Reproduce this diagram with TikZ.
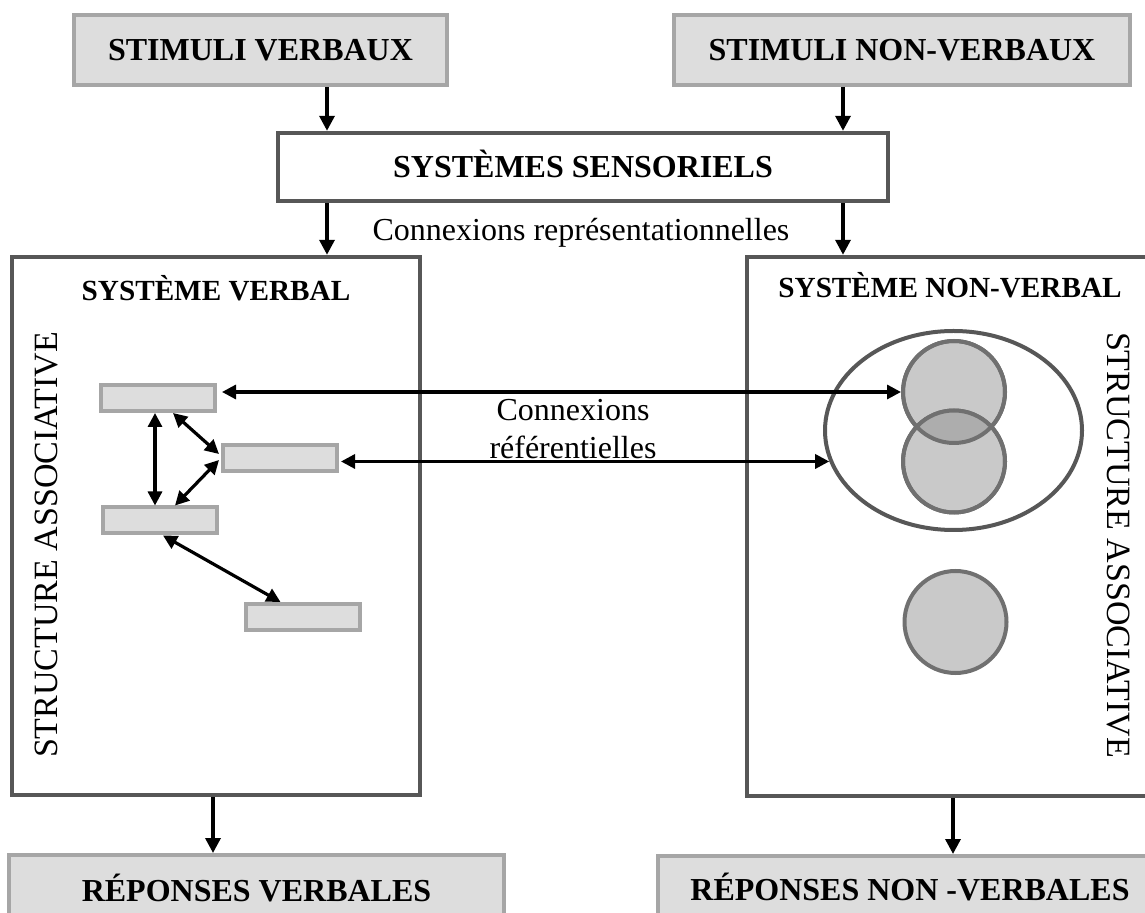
\documentclass[tikz,border=0pt]{standalone}
\usepackage{fontspec}
\setmainfont{Liberation Serif}
\usetikzlibrary{arrows.meta,shapes.geometric}
\definecolor{boxgray}{HTML}{A6A6A6}
\definecolor{boxfill}{HTML}{DDDDDD}
\definecolor{darkline}{HTML}{575757}
\definecolor{circline}{HTML}{707070}
\definecolor{circfill}{HTML}{C9C9C9}
\definecolor{overlapfill}{HTML}{ADADAD}
\begin{document}
\begin{tikzpicture}[x=0.5pt,y=-0.5pt,
  lbl/.style={font=\fontsize{16}{19}\selectfont\bfseries, text height=10.6pt, text depth=0pt},
  ttl/.style={font=\fontsize{14.6}{17}\selectfont\bfseries, text height=9.7pt, text depth=0pt, inner sep=0pt},
  txt/.style={font=\fontsize{16}{19}\selectfont, inner sep=0pt},
  vtxt/.style={font=\fontsize{17}{20}\selectfont, inner sep=0pt, text height=11.3pt, text depth=0pt},
  graybox/.style={draw=boxgray, fill=boxfill, line width=2pt, inner sep=0pt, lbl},
  darkbox/.style={draw=darkline, line width=2.2pt, inner sep=0pt},
  smallbox/.style={draw=boxgray, fill=boxfill, line width=2pt, minimum width=57pt, minimum height=13pt, inner sep=0pt},
  ball/.style={circle, draw=circline, fill=circfill, line width=2pt, minimum size=51pt, inner sep=0pt},
  arr/.style={-{Triangle[length=7.5pt,width=7.5pt]}, line width=1.7pt},
  darr/.style={{Triangle[length=7pt,width=7pt]}-{Triangle[length=7pt,width=7pt]}, line width=1.6pt}]
\useasboundingbox (0,0) rectangle (1145,913);
\clip (0,0) rectangle (1145,913);

% top boxes
\node[graybox, minimum width=186.5pt, minimum height=35pt] (sv) at (260.5,50) {STIMULI VERBAUX};
\node[graybox, minimum width=228pt, minimum height=35pt] (snv) at (902,50) {STIMULI NON-VERBAUX};
\node[darkbox, lbl, minimum width=305pt, minimum height=34pt] (ss) at (583,167) {SYSTÈMES SENSORIELS};
\node[txt] (rep) at (581,233) {Connexions représentationnelles};

% big systems
\node[darkbox, minimum width=204pt, minimum height=269pt] (vs) at (216,526) {};
\node[darkbox, minimum width=211.5pt, minimum height=269.5pt] (nvs) at (958.5,526.5) {};
\node[ttl] (vst) at (216,291) {SYSTÈME VERBAL};
\node[ttl] (nvst) at (950,288) {SYSTÈME NON-VERBAL};
\node[vtxt, rotate=90] (sal) at (46,545) {STRUCTURE ASSOCIATIVE};
\node[vtxt, rotate=-90] (sar) at (1119,545) {STRUCTURE ASSOCIATIVE};

% verbal units
\node[smallbox] (r1) at (158,398) {};
\node[smallbox] (r2) at (280,458) {};
\node[smallbox] (r3) at (160,520.5) {};
\node[smallbox] (r4) at (302.5,617) {};

% non-verbal units
\node[ellipse, draw=darkline, line width=2pt, minimum width=128.5pt, minimum height=99.5pt, inner sep=0pt] (ell) at (953.5,430.5) {};
\node[ball] (c1) at (954,392) {};
\node[ball] (c2) at (954,461.5) {};
\begin{scope}
  \clip (c1.center) circle[radius=25.5pt];
  \fill[overlapfill] (c2.center) circle[radius=25.5pt];
\end{scope}
\draw[circline, line width=2pt] (c1.center) circle[radius=25.5pt] (c2.center) circle[radius=25.5pt];
\node[ball] (c3) at (955.5,622) {};

% referential connections text
\node[txt] (ref1) at (573,410) {Connexions};
\node[txt] (ref2) at (573,447) {référentielles};

% bottom boxes
\node[graybox, minimum width=247.5pt, minimum height=36pt] (rv) at (256.5,891) {RÉPONSES VERBALES};
\node[graybox, minimum width=252pt, minimum height=34pt] (rnv) at (910,890) {RÉPONSES NON -VERBALES};

% flow arrows
\draw[arr] (327,0 |- sv.south) -- (327,0 |- ss.north);
\draw[arr] (843,0 |- snv.south) -- (843,0 |- ss.north);
\draw[arr] (327,0 |- ss.south) -- (327,0 |- vs.north);
\draw[arr] (843,0 |- ss.south) -- (843,0 |- nvs.north);
\draw[arr] (213,0 |- vs.south) -- (213,0 |- rv.north);
\draw[arr] (953,0 |- nvs.south) -- (953,0 |- rnv.north);

% referential arrows
\draw[darr, shorten <=2.5pt] (r1.east |- c1.west) -- (c1.west);
\draw[darr, shorten <=1pt] (r2.east |- ell.194) -- (ell.194);

% associative arrows (verbal)
\draw[darr] ([xshift=-1.5pt]r1.south) -- ([xshift=-1.5pt]r1.south |- r3.north);
\draw[darr] ([xshift=7.5pt]r1.south) -- ([xshift=-1pt,yshift=2pt]r2.west);
\draw[darr] ([xshift=-1pt,yshift=-1pt]r2.west) -- ([xshift=7.5pt]r3.north);
\draw[darr] ([xshift=1.5pt]r3.south) -- ([xshift=-11pt]r4.north);
\end{tikzpicture}
\end{document}
